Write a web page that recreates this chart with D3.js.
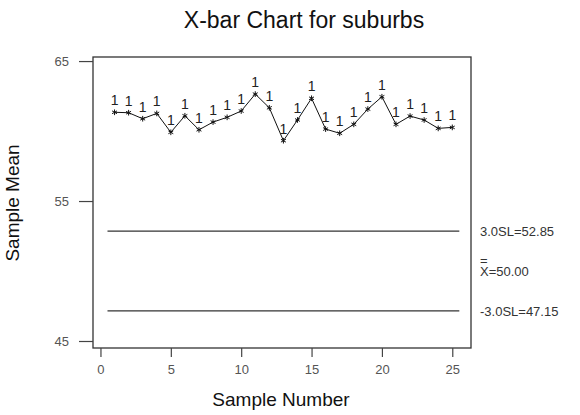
<!DOCTYPE html>
<html>
<head>
<meta charset="utf-8">
<script src="https://cdn.jsdelivr.net/npm/d3@7"></script>
<style>
  body { margin: 0; background: #fff; }
  svg { font-family: "Liberation Sans", Arial, sans-serif; }
</style>
</head>
<body>
<div id="chart"></div>
<script>
// sample means
var samples = [1, 2, 3, 4, 5, 6, 7, 8, 9, 10, 11, 12, 13, 14, 15, 16, 17, 18, 19, 20, 21, 22, 23, 24, 25];
var means = [61.34, 61.31, 60.88, 61.26, 59.91, 61.09, 60.09, 60.64, 60.98, 61.43, 62.64, 61.66, 59.31,
	60.79, 62.34, 60.14, 59.84, 60.48, 61.57, 62.45, 60.48, 61.07, 60.79, 60.19, 60.26];
var flags = ['1', '1', '1', '1', '1', '1', '1', '1', '1', '1', '1', '1', '1',
	'1', '1', '1', '1', '1', '1', '1', '1', '1', '1', '1', '1'];
var limitNames = ['3.0SL=52.85', 'X=50.00', '-3.0SL=47.15'];
var limitValues = [52.85, 50.00, 47.15];
var xTicks = [0, 5, 10, 15, 20, 25];
var yTicks = [45, 55, 65];

var svgWidth = 580;
var svgHeight = 415;
var plotLeft = 93, plotTop = 57, plotRight = 471, plotBottom = 348;

var svg = d3.select('#chart').append('svg')
	.attr('width', svgWidth)
	.attr('height', svgHeight);

var x = d3.scaleLinear().domain([-0.53, 26.33]).range([plotLeft, plotRight]);
var y = d3.scaleLinear().domain([44.5, 65.29]).range([plotBottom, plotTop]);

// frame
svg.append('rect')
	.attr('x', plotLeft).attr('y', plotTop)
	.attr('width', plotRight - plotLeft).attr('height', plotBottom - plotTop)
	.style('fill', 'none').style('stroke', '#333').style('stroke-width', 1.3);

// axes
var yAxis = d3.axisLeft(y).tickValues(yTicks).tickSize(14).tickPadding(10);
var gy = svg.append('g').attr('transform', 'translate(' + plotLeft + ',0)').call(yAxis);
gy.select('.domain').remove();

var xAxis = d3.axisBottom(x).tickValues(xTicks).tickSize(9).tickPadding(8);
var gx = svg.append('g').attr('transform', 'translate(0,' + plotBottom + ')').call(xAxis);
gx.select('.domain').remove();

svg.selectAll('.tick line').style('stroke', '#444').style('stroke-width', 1.2);
svg.selectAll('.tick text').style('font-size', '13px').style('fill', '#555')
	.style('font-family', '"Liberation Sans", Arial, sans-serif');

// control limits (centre line is not drawn in the original)
svg.selectAll('.limit').data([limitValues[0], limitValues[2]]).enter().append('line')
	.attr('class', 'limit')
	.attr('x1', x(0.5)).attr('x2', x(25.5))
	.attr('y1', function(d) { return y(d); })
	.attr('y2', function(d) { return y(d); })
	.style('stroke', '#333')
	.style('stroke-width', 1.2);

svg.selectAll('.limlab').data(limitValues).enter().append('text')
	.attr('class', 'limlab')
	.attr('x', 480)
	.attr('y', function(d) { return y(d) + 5; })
	.style('font-size', '13px').style('fill', '#333')
	.text(function(d, i) { return limitNames[i]; });

// double bar over the X
svg.append('text')
	.attr('x', 480).attr('y', y(limitValues[1]) - 6)
	.style('font-size', '13px').style('fill', '#333')
	.text('=');

// data line
var line = d3.line()
	.x(function(d, i) { return x(samples[i]); })
	.y(function(d) { return y(d); });

svg.append('path').datum(means)
	.attr('d', line)
	.style('fill', 'none').style('stroke', '#111').style('stroke-width', 1);

svg.selectAll('.pt').data(means).enter().append('path')
	.attr('class', 'pt')
	.attr('transform', function(d, i) { return 'translate(' + x(samples[i]) + ',' + y(d) + ')'; })
	.attr('d', d3.symbol().type(d3.symbolAsterisk).size(22))
	.style('fill', 'none').style('stroke', '#111').style('stroke-width', 1);

svg.selectAll('.flag').data(means).enter().append('text')
	.attr('class', 'flag')
	.attr('x', function(d, i) { return x(samples[i]); })
	.attr('y', function(d) { return y(d) - 7; })
	.style('text-anchor', 'middle').style('font-size', '14px').style('fill', '#222')
	.text(function(d, i) { return flags[i]; });

// titles
svg.append('text')
	.attr('x', 304).attr('y', 28)
	.style('text-anchor', 'middle').style('font-size', '23px').style('fill', '#111')
	.text('X-bar Chart for suburbs');

svg.append('text')
	.attr('x', 281).attr('y', 406)
	.style('text-anchor', 'middle').style('font-size', '19px').style('fill', '#111')
	.text('Sample Number');

svg.append('text')
	.attr('transform', 'translate(19,203) rotate(-90)')
	.style('text-anchor', 'middle').style('font-size', '19px').style('fill', '#111')
	.text('Sample Mean');
</script>
</body>
</html>
